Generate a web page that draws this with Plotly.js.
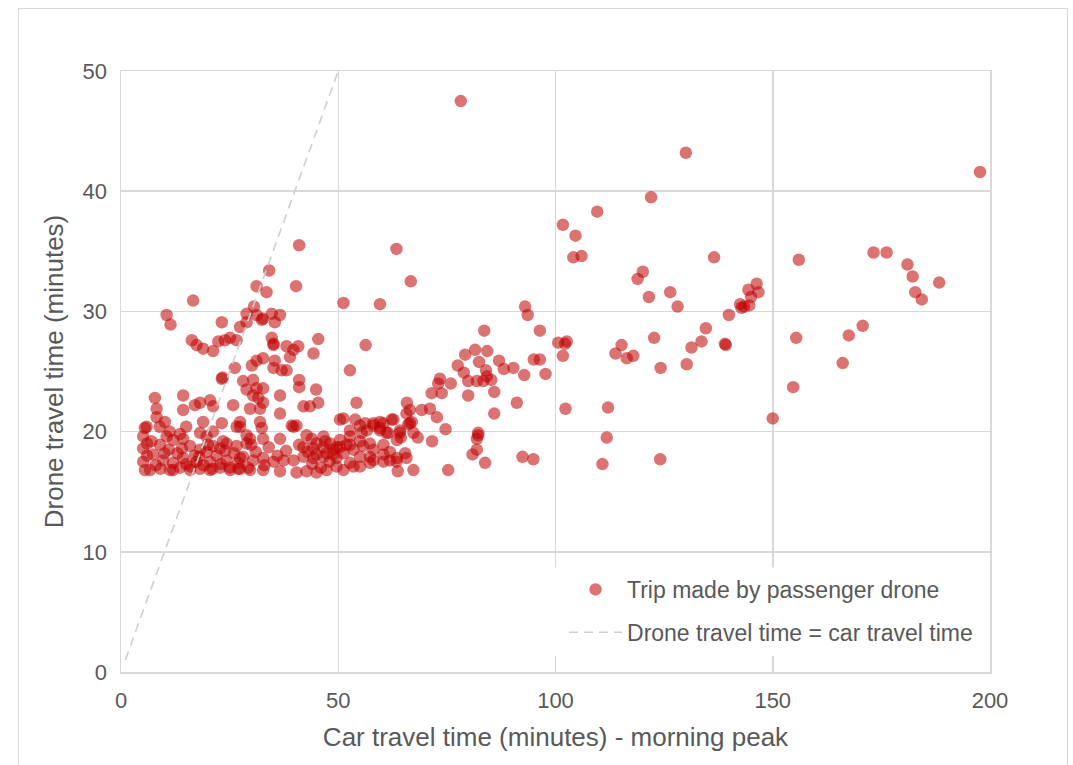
<!DOCTYPE html>
<html>
<head>
<meta charset="utf-8">
<script src="https://cdn.plot.ly/plotly-3.0.1.min.js"></script>
<style>
  html, body { margin: 0; padding: 0; background: #fff; overflow: hidden; }
  #wrap { position: relative; width: 1073px; height: 765px; }
  #chart { position: absolute; left: 0; top: 0; width: 1073px; height: 765px; }
  #frame { position: absolute; left: 18px; top: 8px; width: 1050px; height: 800px;
           border: 1.5px solid #d9d9d9; pointer-events: none; box-sizing: border-box; }
</style>
</head>
<body>
<div id="wrap"><div id="chart"></div><div id="frame"></div></div>
<script>
// Car travel time (minutes) - morning peak, per trip
const carTime = [
  78.2,130.0,197.7,122.0,109.6,101.7,104.6,41.0,63.4,104.1,106.0,136.5,173.2,176.2,156.0,181.0,34.1,120.1,118.9,66.7,182.2,188.3,182.8,184.3,126.4,121.5,128.1,
  146.3,144.4,146.7,145.0,142.5,143.4,144.6,142.8,139.9,
  31.2,40.3,33.5,16.6,51.2,59.6,93.0,93.6,10.5,11.4,23.2,
  30.6,28.9,31.2,32.7,34.7,36.6,32.4,27.4,28.9,35.4,35.1,35.1,34.7,45.4,
  16.3,17.4,18.9,21.2,22.4,23.9,25.1,26.6,38.1,39.7,38.9,40.8,44.3,
  26.2,30.1,31.2,32.7,35.4,35.1,37.0,38.1,52.7,56.3,54.2,23.2,23.4,
  30.4,28.1,28.9,31.2,32.7,30.4,31.6,32.7,29.7,32.0,36.6,41.0,41.0,44.9,45.4,43.5,42.0,
  7.8,8.2,14.3,14.3,17.0,18.2,20.5,21.2,25.8,18.9,23.2,27.4,32.0,27.4,36.6,39.7,40.4,51.2,5.9,8.9,10.1,
  96.4,83.6,102.2,102.6,100.6,101.7,96.4,97.7,115.2,113.8,116.4,117.9,122.7,124.2,134.6,133.6,131.3,130.2,139.0,139.2,
  155.4,170.7,167.5,166.1,154.7,150.0,102.3,112.1,111.8,110.8,124.1,
  81.5,79.2,84.3,82.4,87.0,88.1,90.3,95.0,92.8,77.5,78.9,84.0,84.2,81.9,83.4,85.2,85.9,79.9,
  73.4,73.0,71.5,73.8,75.9,79.9,91.1,85.9,65.8,66.5,66.9,66.1,69.2,71.1,72.7,74.7,82.2,59.6,62.7,64.2,
  82.2,81.9,81.9,80.9,83.8,92.4,94.9,75.3,67.3,63.7,68.3,71.6,64.4,65.4,61.9,63.4,65.7,57.3,53.5,55.0,51.2,
  50.4,53.9,56.2,58.1,60.4,62.3,52.7,55.4,59.6,61.5,63.5,57.3,60.4,61.9,63.5,55.0,49.6,51.9,57.3,66.5,65.7,67.3,64.2,
  5.5,5.1,5.1,5.1,5.5,10.5,12.0,14.3,15.9,18.2,19.7,21.2,22.8,24.3,26.6,28.9,
  7.4,9.7,12.0,14.3,17.4,20.5,24.3,27.4,6.7,9.1,11.3,13.6,15.9,18.2,20.5,22.8,25.1,27.4,29.3,
  18.2,19.7,21.2,23.5,26.6,28.9,32.4,29.7,32.7,36.6,39.3,42.7,43.9,46.6,48.1,50.4,52.7,55.0,56.6,58.1,59.6,61.1,
  28.1,30.4,32.7,35.1,37.4,39.7,42.0,44.3,46.6,48.9,51.2,53.5,55.7,58.1,60.4,
  29.7,32.7,36.6,40.4,42.7,45.0,47.3,49.6,52.7,58.1,60.4,
  42.0,44.3,46.6,48.9,50.4,52.7,55.0,45.0,47.3,49.6,
  7,9,11,13,15,17,19,21,23,25,27,26,22,12,8.2,11.2,13.6,15.0,6,
  44,46,48,45,47,43,41,38,36,34,33,31,30,27,24,20,18,16,14,10,8,6
];
// Drone travel time (minutes), same trip order
const droneTime = [
  47.5,43.2,41.6,39.5,38.3,37.2,36.3,35.5,35.2,34.5,34.6,34.5,34.9,34.9,34.3,33.9,33.4,33.3,32.7,32.5,32.9,32.4,31.6,31.0,31.6,31.2,30.4,
  32.3,31.8,31.6,31.2,30.6,30.4,30.5,30.3,29.7,
  32.1,32.1,31.6,30.9,30.7,30.6,30.4,29.7,29.7,28.9,29.1,
  30.4,29.8,29.7,29.4,29.8,29.7,29.3,28.7,29.1,29.1,27.3,27.2,27.8,27.7,
  27.6,27.2,26.9,26.7,27.5,27.6,27.8,27.6,27.1,26.8,26.2,27.1,26.5,
  25.3,25.5,25.9,26.1,25.9,25.3,25.1,25.1,25.1,27.2,22.4,24.4,24.5,
  24.3,24.2,23.5,23.6,23.6,23.0,22.8,22.4,21.9,21.9,23.0,24.3,23.7,23.5,22.4,22.1,22.1,
  22.8,21.9,23.0,21.8,22.2,22.4,22.6,22.1,22.2,20.8,20.7,20.8,20.8,20.4,21.5,20.4,20.5,21.1,20.4,20.4,20.8,
  28.4,28.4,27.3,27.5,27.4,26.3,26.0,24.8,27.2,26.5,26.1,26.3,27.8,25.3,28.6,27.5,27.0,25.6,27.3,27.2,
  27.8,28.8,28.0,25.7,23.7,21.1,21.9,22.0,19.5,17.3,17.7,
  26.8,26.4,26.7,25.8,25.9,25.2,25.3,26.0,24.7,25.5,24.9,25.1,24.6,24.2,24.2,24.3,23.3,24.2,
  24.4,24.0,23.2,23.2,24.0,23.0,22.4,21.5,22.4,21.8,20.8,20.6,21.8,21.9,21.2,20.2,19.9,20.8,21.0,19.9,
  19.7,19.4,18.5,18.1,17.4,17.9,17.7,16.8,16.8,16.7,19.5,19.2,19.5,18.2,17.6,17.5,17.8,17.9,17.1,17.1,16.8,
  21.0,21.0,20.7,20.5,20.7,21.0,20.1,19.9,20.1,19.9,19.3,19.0,18.9,18.3,17.8,17.9,18.7,18.9,17.4,20.7,21.5,19.9,20.1,
  20.3,19.6,18.6,17.5,16.8,19.6,19.3,19.4,18.8,18.5,18.3,18.8,18.6,19.0,18.8,19.0,
  18.1,17.6,17.4,17.8,17.5,17.5,17.6,17.8,16.8,16.9,16.8,17.0,16.8,16.9,16.8,17.0,16.8,16.9,17.0,
  19.9,19.6,20.0,19.2,20.4,19.7,20.3,19.4,19.4,19.4,20.5,19.7,19.4,19.6,19.0,19.3,19.6,20.5,20.1,20.7,20.3,19.9,
  17.9,17.6,17.8,17.5,17.6,17.6,17.9,17.8,17.9,18.1,18.2,18.5,18.8,18.5,18.1,
  16.8,16.8,16.7,16.6,16.7,16.6,16.8,17.1,17.4,17.6,17.5,
  18.7,18.6,18.7,18.5,18.7,18.9,19.2,18.1,18.2,17.8,
  19.2,18.9,18.5,18.2,17.3,18.0,17.2,16.9,17.3,17.0,16.9,18.2,18.0,16.8,21.2,20.0,19.8,20.4,19.0,
  17.3,17.0,17.5,19.0,19.2,18.3,18.9,18.4,18.0,18.7,17.2,18.3,18.9,17.4,18.4,18.9,17.9,17.1,18.6,18.2,17.2,18.0
];
// Parity line: drone travel time = car travel time
const parityX = [1, 50];
const parityY = [1, 50];
// Axis ticks
const xTicks = [0, 50, 100, 150, 200];
const yTicks = [0, 10, 20, 30, 40, 50];
const seriesNames = ["Trip made by passenger drone", "Drone travel time = car travel time"];

const fontFam = "'Liberation Sans', Arial, sans-serif";
const txtColor = "#595959";
const gridC = "#d9d9d9";

const traces = [
  {
    type: "scatter", mode: "markers", name: seriesNames[0],
    x: carTime, y: droneTime, legendgroup: "a",
    marker: { color: "#c00000", opacity: 0.55, size: 12.5, line: { width: 0 } },
    hoverinfo: "x+y"
  },
  {
    type: "scatter", mode: "lines", name: seriesNames[1],
    x: parityX, y: parityY, legendgroup: "b",
    line: { color: "#cfcfcf", width: 1.6, dash: "9px,6px" },
    hoverinfo: "skip"
  }
];

const layout = {
  width: 1073, height: 765,
  margin: { l: 121, r: 83, t: 71, b: 93 },
  paper_bgcolor: "rgba(0,0,0,0)",
  plot_bgcolor: "#fff",
  font: { family: fontFam, color: txtColor, size: 22 },
  showlegend: true,
  legend: {
    x: 0.5098, xanchor: "left", y: 0.03, yanchor: "bottom",
    bgcolor: "rgba(255,255,255,0)", borderwidth: 0,
    itemwidth: 53,
    font: { family: fontFam, size: 23, color: txtColor },
    traceorder: "grouped", tracegroupgap: 10
  },
  // white panel behind the legend so gridlines are hidden there, as in the original
  shapes: [{
    type: "rect", xref: "x", yref: "y", layer: "above",
    x0: 97.6, x1: 199.4, y0: 1.35, y1: 8.7,
    fillcolor: "#ffffff", line: { width: 0 }
  }],
  xaxis: {
    range: [0, 200], tickvals: xTicks, ticktext: xTicks.map(String),
    showgrid: true, gridcolor: gridC, gridwidth: 1.5,
    zeroline: false, showline: true, linecolor: gridC, linewidth: 1.5, mirror: true,
    ticks: "outside", ticklen: 8, tickcolor: "rgba(0,0,0,0)",
    tickfont: { family: fontFam, size: 22, color: txtColor },
    title: { text: "Car travel time (minutes) - morning peak", font: { family: fontFam, size: 26, color: txtColor }, standoff: 16 },
    fixedrange: true
  },
  yaxis: {
    range: [0, 50], tickvals: yTicks, ticktext: yTicks.map(String),
    showgrid: true, gridcolor: gridC, gridwidth: 1.5,
    zeroline: false, showline: true, linecolor: gridC, linewidth: 1.5, mirror: true,
    ticks: "outside", ticklen: 8, tickcolor: "rgba(0,0,0,0)",
    tickfont: { family: fontFam, size: 22, color: txtColor },
    title: { text: "Drone travel time (minutes)", font: { family: fontFam, size: 26, color: txtColor }, standoff: 11 },
    fixedrange: true
  }
};

Plotly.newPlot("chart", traces, layout, { displayModeBar: false, staticPlot: true });
</script>
</body>
</html>
